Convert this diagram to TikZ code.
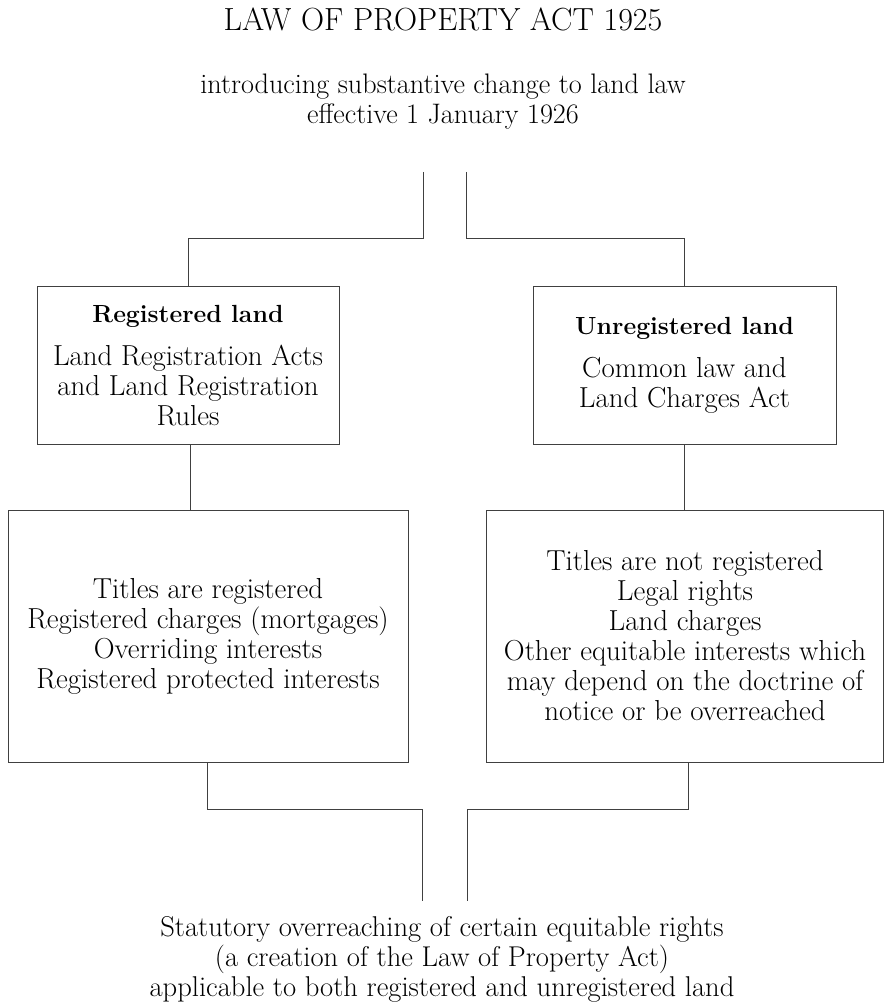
\documentclass[tikz,border=0pt]{standalone}
\usetikzlibrary{positioning}

\newcommand{\boxhead}[1]{{\fontsize{24.8}{30}\selectfont\bfseries #1}}

\begin{document}
\begin{tikzpicture}[x=1pt,y=-1pt,inner sep=0pt,outer sep=0pt,
linkline/.style={draw=black!75,line width=1pt},
landbox/.style={draw=black!75,rectangle,line width=1pt,align=center,font=\fontsize{28.9}{30}\selectfont},
plaintext/.style={align=center,font=\fontsize{28.6}{30}\selectfont}]

\useasboundingbox (0,0) rectangle (884,1003);

\draw (443,19) node[font=\fontsize{32}{36}\selectfont] (title) {LAW OF PROPERTY ACT 1925};
\draw (443,102) node[plaintext,font=\fontsize{28.2}{30}\selectfont] (intro) {introducing substantive change to land law\\ effective 1 January 1926};

\draw (188,365.5) node[landbox,minimum width=302pt,minimum height=158pt] (reg)
  {\boxhead{Registered land}\\[13pt] Land Registration Acts\\ and Land Registration\\ Rules};
\draw (684.5,365.5) node[landbox,minimum width=303pt,minimum height=158pt] (unreg)
  {\boxhead{Unregistered land}\\[13pt] Common law and\\ Land Charges Act};

\draw (208,636) node[landbox,minimum width=400pt,minimum height=252pt] (regint)
  {Titles are registered\\ Registered charges (mortgages)\\ Overriding interests\\ Registered protected interests};
\draw (685,636) node[landbox,minimum width=397pt,minimum height=252pt] (unregint)
  {Titles are not registered\\ Legal rights\\ Land charges\\ Other equitable interests which\\ may depend on the doctrine of\\ notice or be overreached};

\draw (442,959) node[plaintext] (overreach) {Statutory overreaching of certain equitable rights\\ (a creation of the Law of Property Act)\\ applicable to both registered and unregistered land};

% split from the act
\coordinate (inL) at (423,172);
\coordinate (inR) at (466,172);
\draw[linkline] (inL) -- ++(0,66) -| (reg.north);
\draw[linkline] (inR) -- ++(0,66) -| (unreg.north);

\draw[linkline] (reg.south) ++(2,0) -- ++(0,65);
\draw[linkline] (unreg.south) -- (unreg.south |- unregint.north);

% join into overreaching
\coordinate (outL) at (422,901);
\coordinate (outR) at (467,901);
\draw[linkline] (regint.south) ++(-1,0) -- ++(0,47) -| (outL);
\draw[linkline] (unregint.south) ++(3,0) -- ++(0,47) -| (outR);
\end{tikzpicture}
\end{document}
